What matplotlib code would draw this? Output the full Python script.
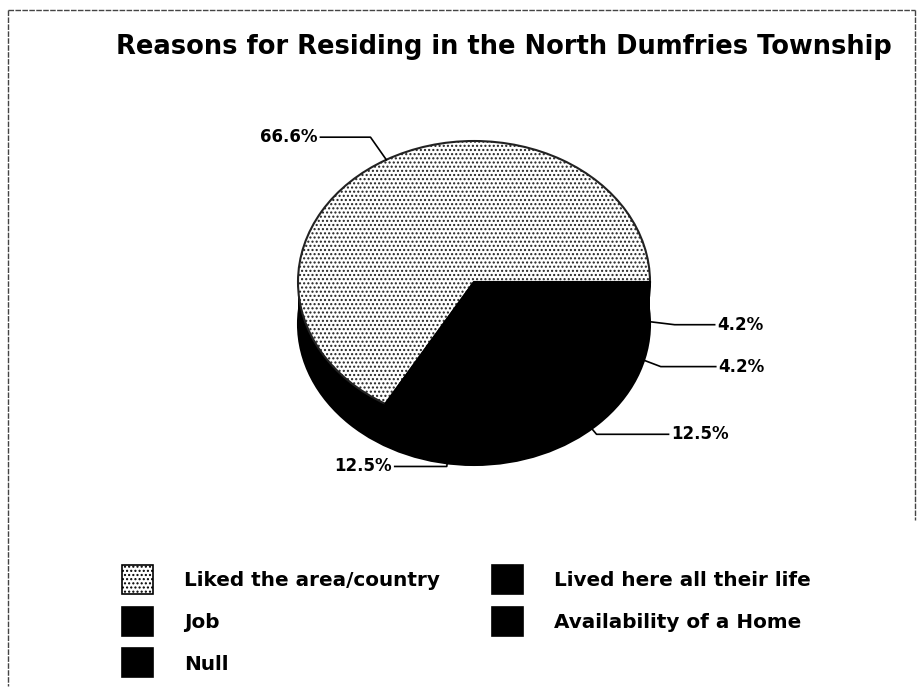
import numpy as np
import matplotlib
matplotlib.use("Agg")
import matplotlib.pyplot as plt
from matplotlib.patches import Ellipse, Rectangle

# survey answers (share of respondents, %)
reasons = ["Liked the area/country", "Job", "Lived here all their life",
           "Availability of a Home", "Null"]
shares = [66.6, 12.5, 12.5, 4.2, 4.2]
pct_labels = ["66.6%", "12.5%", "12.5%", "4.2%", "4.2%"]
legend_order = ["Liked the area/country", "Job", "Null",
                "Lived here all their life", "Availability of a Home"]

W, H = 922, 691
CX, CY = 474, 282      # pie centre in pixels (from top-left)
RX, RY = 176, 141      # half axes of the tilted top face
DEPTH = 42             # height of the pie wall in pixels
RUNS = [50, 52, 72, 55, 40]   # horizontal length of each leader line, px

plt.rcParams['font.family'] = ['DejaVu Sans']
plt.rcParams['hatch.linewidth'] = 1.0
FW = "bold"

fig = plt.figure(figsize=(W / 100, H / 100), dpi=100)
ax = fig.add_axes([0, 0, 1, 1])

# pie units: x scaled by RX, y by RY -> the unit circle becomes the tilted ellipse
def px(xp, yp):
    return (xp - CX) / RX, (CY - yp) / RY

d = DEPTH / RY

# wall of the pie (all black)
ax.add_patch(Ellipse((0, -d), 2, 2, facecolor="black", edgecolor="black", lw=1.5, zorder=1))
ax.add_patch(Rectangle((-1, -d), 2, d, facecolor="black", edgecolor="none", zorder=1))

colors = ["white", "black", "black", "black", "black"]
wedges, _ = ax.pie(shares, startangle=0, counterclock=True, colors=colors,
                   wedgeprops=dict(edgecolor="black", linewidth=1.5), radius=1)
for w in wedges:
    w.set_zorder(2)
wedges[0].set_hatch("....")
wedges[0].set_edgecolor("#222222")
wedges[0].set_linewidth(1.5)

# leader lines with percentage labels
start = 0.0
for share, lab, run_px in zip(shares, pct_labels, RUNS):
    mid = np.deg2rad(start + share * 3.6 / 2)
    start += share * 3.6
    c, s = np.cos(mid), np.sin(mid)
    ax0, ay0 = c, s
    if s < 0:
        ay0 = s - d / 2
    ex, ey = ax0 + 0.15 * c, ay0 + 0.17 * np.sign(s) * max(abs(s), 0.1)
    if s >= 0:
        ex, ey = ax0 - 0.09, ay0 + 0.16
    run = run_px / RX
    tx = ex + run if c > 0 else ex - run
    ax.plot([ax0, ex, tx], [ay0, ey, ey], color="black", lw=1.2, zorder=3)
    ax.text(tx + (0.015 if c > 0 else -0.015), ey, lab, ha="left" if c > 0 else "right",
            va="center", fontsize=12, fontweight=FW, zorder=3)

ax.set_aspect("auto")
x0, y1 = px(0, 0)
x1, y0 = px(W, H)
ax.set_xlim(x0, x1)
ax.set_ylim(y0, y1)
ax.axis("off")

fig.text(504 / W, 1 - 47 / H, "Reasons for Residing in the North Dumfries Township",
         ha="center", va="center", fontsize=18.5, fontweight=FW)

# legend in two columns
lookup = dict(zip(reasons, wedges))
slots = [(122, 565), (122, 607), (122, 648), (492, 565), (492, 607)]
for name, (bx, by) in zip(legend_order, slots):
    w = lookup[name]
    bx0, by0 = px(bx, by + 29)
    bx1, by1 = px(bx + 31, by)
    ax.add_patch(Rectangle((bx0, by0), bx1 - bx0, by1 - by0, facecolor=w.get_facecolor(),
                           edgecolor="black", lw=1.2, hatch=w.get_hatch(), zorder=3))
    fig.text((bx + 62) / W, 1 - (by + 16) / H, name, ha="left", va="center",
             fontsize=14.4, fontweight=FW)

# thin frame round the chart
frame = dict(color="#444444", lw=1.0, ls=(0, (4, 1)))
fig.add_artist(plt.Line2D([8 / W, 915 / W], [1 - 10 / H, 1 - 10 / H], transform=fig.transFigure, **frame))
fig.add_artist(plt.Line2D([8 / W, 8 / W], [1 - 10 / H, 1 - 686 / H], transform=fig.transFigure, **frame))
fig.add_artist(plt.Line2D([915 / W, 915 / W], [1 - 10 / H, 1 - 520 / H], transform=fig.transFigure, **frame))

fig.savefig("out.png", dpi=100)
